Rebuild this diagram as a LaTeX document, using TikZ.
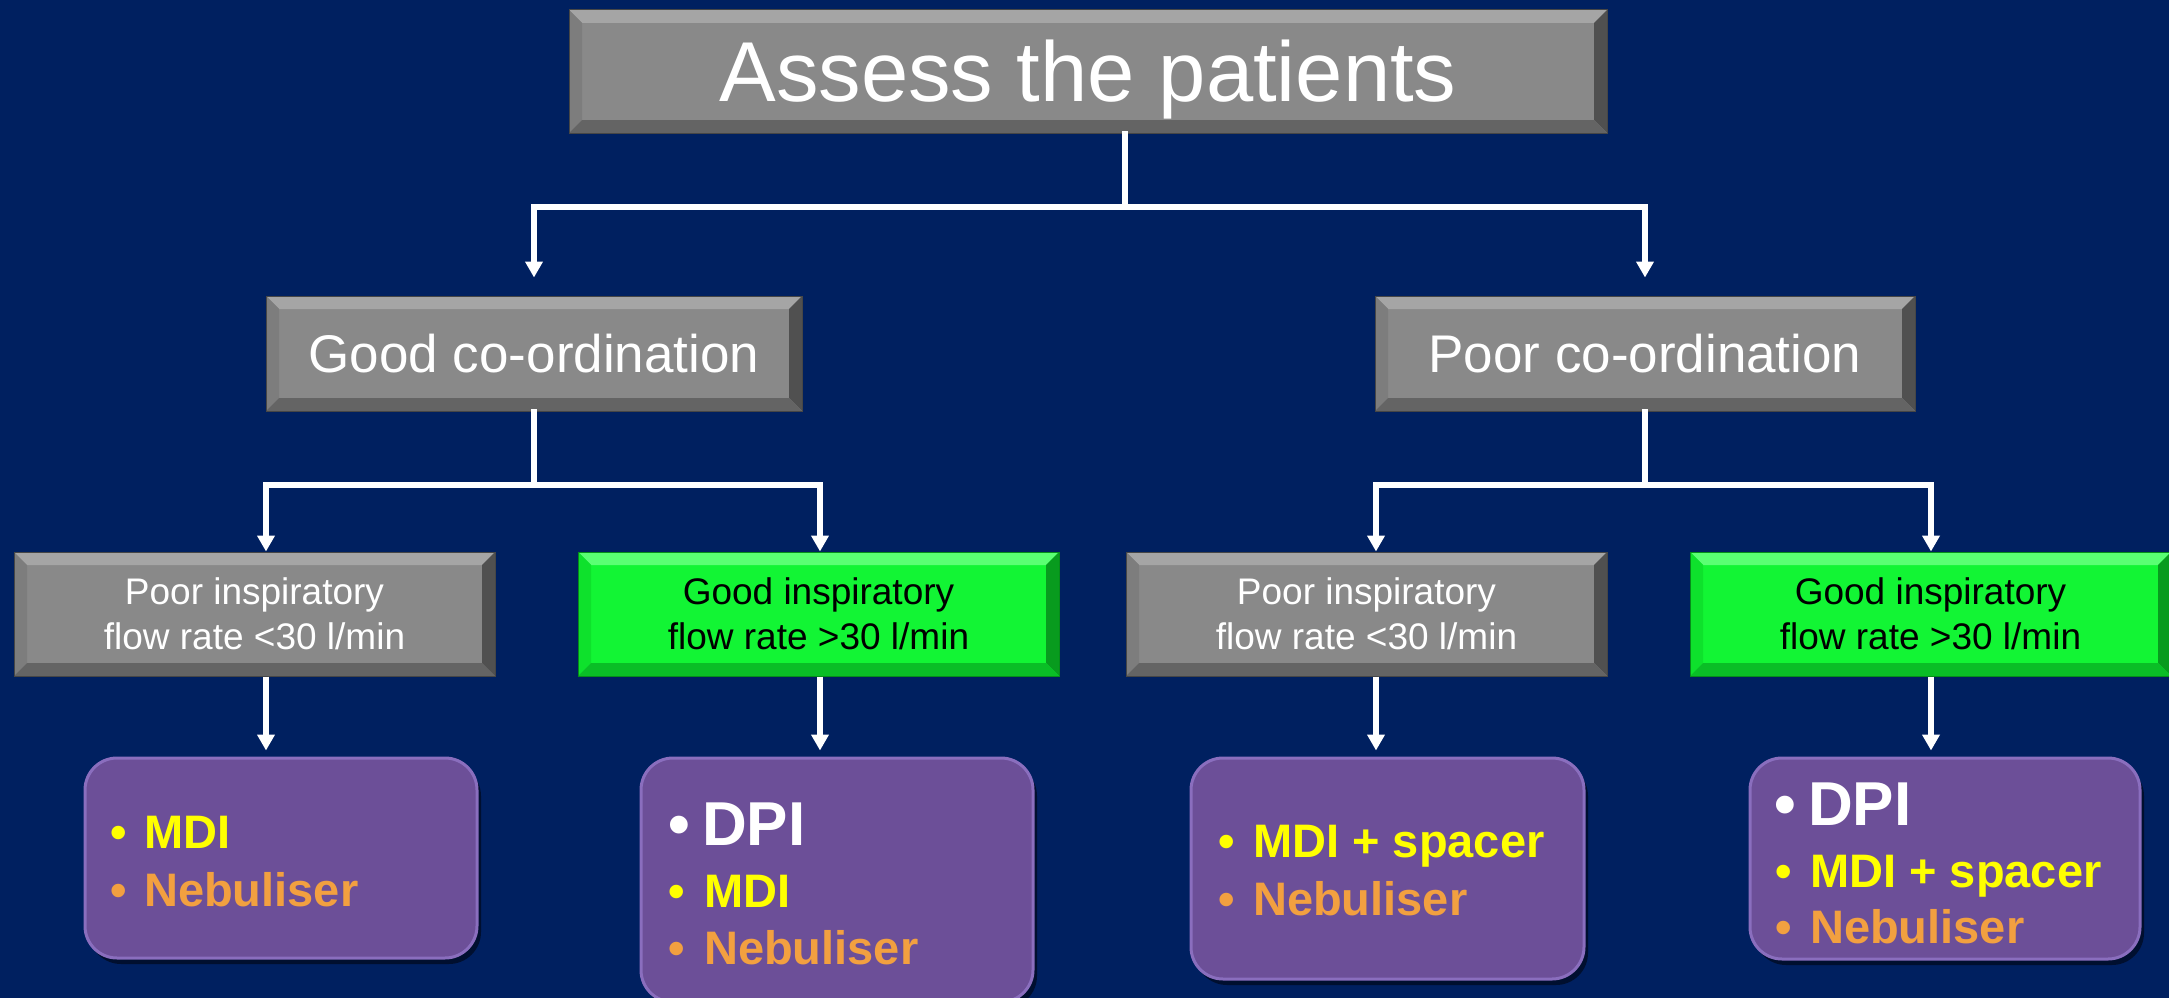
\documentclass[tikz,border=0pt]{standalone}
\usepackage{fontspec}
\setmainfont{Liberation Sans}
\usetikzlibrary{arrows.meta,shadows}
\definecolor{bg}{RGB}{0,32,96}
\definecolor{gmain}{RGB}{137,137,137}
\definecolor{gtop}{RGB}{165,165,165}
\definecolor{gleft}{RGB}{125,125,125}
\definecolor{gright}{RGB}{80,80,80}
\definecolor{gbot}{RGB}{100,100,100}
\definecolor{gline}{RGB}{70,70,70}
\definecolor{nmain}{RGB}{18,245,52}
\definecolor{ntop}{RGB}{90,255,115}
\definecolor{nleft}{RGB}{14,225,44}
\definecolor{nright}{RGB}{8,155,30}
\definecolor{nbot}{RGB}{10,190,38}
\definecolor{nline}{RGB}{6,140,26}
\definecolor{pmain}{RGB}{108,79,152}
\definecolor{pedge}{RGB}{138,110,190}
\definecolor{tyellow}{RGB}{255,255,0}
\definecolor{torange}{RGB}{242,160,64}

\newcommand{\bevelfill}[5]{%
\fill[#2] (path picture bounding box.north west) -- (path picture bounding box.north east) -- ([xshift=-#1,yshift=-#1]path picture bounding box.north east) -- ([xshift=#1,yshift=-#1]path picture bounding box.north west) -- cycle;
\fill[#3] (path picture bounding box.north west) -- ([xshift=#1,yshift=-#1]path picture bounding box.north west) -- ([xshift=#1,yshift=#1]path picture bounding box.south west) -- (path picture bounding box.south west) -- cycle;
\fill[#4] (path picture bounding box.north east) -- ([xshift=-#1,yshift=-#1]path picture bounding box.north east) -- ([xshift=-#1,yshift=#1]path picture bounding box.south east) -- (path picture bounding box.south east) -- cycle;
\fill[#5] (path picture bounding box.south west) -- ([xshift=#1,yshift=#1]path picture bounding box.south west) -- ([xshift=-#1,yshift=#1]path picture bounding box.south east) -- (path picture bounding box.south east) -- cycle;
}

\tikzset{
  greybox/.style={fill=gmain, draw=gline, line width=1pt, text=white, inner sep=0pt, align=center,
    path picture={\bevelfill{13pt}{gtop}{gleft}{gright}{gbot}}},
  greenbox/.style={fill=nmain, draw=nline, line width=1pt, text=black, inner sep=0pt, align=center,
    path picture={\bevelfill{13pt}{ntop}{nleft}{nright}{nbot}}},
  lvthree/.style={minimum width=481pt, minimum height=124pt,
    font=\fontsize{37}{45}\selectfont},
  purplebox/.style={fill=pmain, draw=pedge, line width=3pt, rounded corners=32pt,
    drop shadow={shadow xshift=4pt, shadow yshift=-6pt, opacity=0.5, fill=black}},
  ptext/.style={inner sep=0pt, anchor=base west, font=\bfseries\fontsize{47}{56}\selectfont},
  pbig/.style={inner sep=0pt, anchor=base west, font=\bfseries\fontsize{62}{74}\selectfont},
  conn/.style={draw=white, line width=5.5pt, line cap=rect},
  arr/.style={draw=white, line width=5.5pt, -{Triangle[length=16pt,width=17pt]}},
}

\begin{document}
\begin{tikzpicture}[x=1pt,y=-1pt]
\useasboundingbox (0,0) rectangle (2169,998);
\fill[bg] (0,0) rectangle (2169,998);

% level 1
\node[greybox, minimum width=1038pt, minimum height=123pt, text height=61pt, text depth=0pt,
  font=\fontsize{85}{100}\selectfont] (top) at (1088,71.5) {Assess the patients};

% level 2
\node[greybox, minimum width=536pt, minimum height=115pt, text height=38pt, text depth=0pt,
  font=\fontsize{53}{64}\selectfont] (goodc) at (534,353.5) {Good co-ordination};
\node[greybox, minimum width=540pt, minimum height=115pt, text height=38pt, text depth=0pt,
  font=\fontsize{53}{64}\selectfont] (poorc) at (1645,353.5) {Poor co-ordination};

% level 3
\node[greybox, lvthree] (a3) at (254.5,614) {Poor inspiratory\\flow rate <30 l/min};
\node[greenbox, lvthree] (b3) at (818.5,614) {Good inspiratory\\flow rate >30 l/min};
\node[greybox, lvthree] (c3) at (1366.5,614) {Poor inspiratory\\flow rate <30 l/min};
\node[greenbox, lvthree] (d3) at (1930.5,614) {Good inspiratory\\flow rate >30 l/min};

% level 4 boxes
\node[purplebox, minimum width=392pt, minimum height=200pt] (p1) at (281,858) {};
\node[purplebox, minimum width=392pt, minimum height=244pt] (p2) at (837,880) {};
\node[purplebox, minimum width=393pt, minimum height=221pt] (p3) at (1387.5,868.5) {};
\node[purplebox, minimum width=390pt, minimum height=201pt] (p4) at (1945,858.5) {};

% level 4 texts
\node[ptext, text=tyellow] (p1a) at (144,848) {\llap{•\hspace{17pt}}MDI};
\node[ptext, text=torange] (p1b) at (144,906) {\llap{•\hspace{17pt}}Nebuliser};

\node[pbig, text=white] (p2a) at (702,845) {\llap{•\hspace{12pt}}DPI};
\node[ptext, text=tyellow] (p2b) at (704,907) {\llap{•\hspace{19pt}}MDI};
\node[ptext, text=torange] (p2c) at (704,964) {\llap{•\hspace{19pt}}Nebuliser};

\node[ptext, text=tyellow] (p3a) at (1253,857) {\llap{•\hspace{18pt}}MDI + spacer};
\node[ptext, text=torange] (p3b) at (1253,915) {\llap{•\hspace{18pt}}Nebuliser};

\node[pbig, text=white] (p4a) at (1808,825) {\llap{•\hspace{12pt}}DPI};
\node[ptext, text=tyellow] (p4b) at (1810,887) {\llap{•\hspace{18pt}}MDI + spacer};
\node[ptext, text=torange] (p4c) at (1810,943) {\llap{•\hspace{18pt}}Nebuliser};

% connectors level 1 -> 2
\coordinate (j1) at (1125,207);
\coordinate (hL) at (534,207);
\coordinate (hR) at (1645,207);
\draw[conn] (top.south -| j1) -- (j1);
\draw[conn] (hL) -- (hR);
\draw[arr, shorten >=18pt] (hL) -- (hL |- goodc.north);
\draw[arr, shorten >=18pt] (hR) -- (hR |- poorc.north);

% connectors level 2 -> 3
\coordinate (h2L) at (266,485);
\coordinate (h2R) at (820,485);
\coordinate (h3L) at (1376,485);
\coordinate (h3R) at (1931,485);
\draw[conn] (goodc.south) -- (goodc.south |- h2L);
\draw[conn] (h2L) -- (h2R);
\draw[arr] (h2L) -- (h2L |- a3.north);
\draw[arr] (h2R) -- (h2R |- b3.north);
\draw[conn] (poorc.south) -- (poorc.south |- h3L);
\draw[conn] (h3L) -- (h3R);
\draw[arr] (h3L) -- (h3L |- c3.north);
\draw[arr] (h3R) -- (h3R |- d3.north);

% connectors level 3 -> 4
\draw[arr, shorten >=6pt] (h2L |- a3.south) -- (h2L |- p1.north);
\draw[arr, shorten >=6pt] (h2R |- b3.south) -- (h2R |- p2.north);
\draw[arr, shorten >=6pt] (h3L |- c3.south) -- (h3L |- p3.north);
\draw[arr, shorten >=6pt] (h3R |- d3.south) -- (h3R |- p4.north);
\end{tikzpicture}
\end{document}
